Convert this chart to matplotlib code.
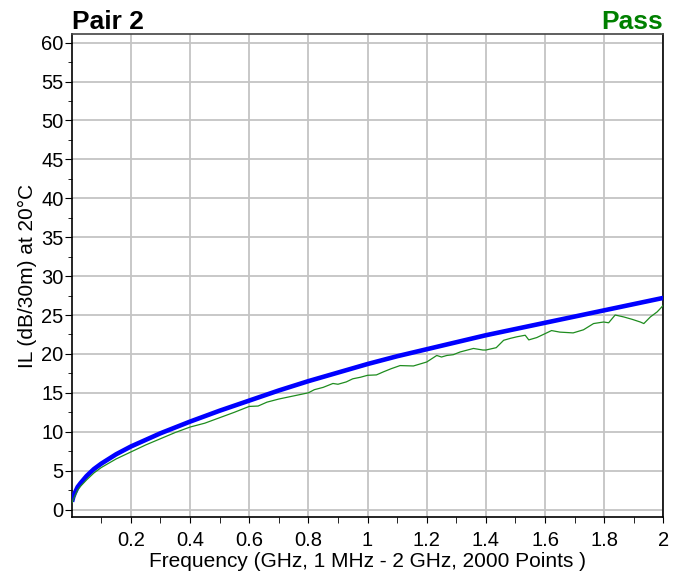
import matplotlib.pyplot as plt
from matplotlib.ticker import MultipleLocator

plt.rcParams['font.family'] = ['Liberation Sans', 'DejaVu Sans']

# limit curve (blue)
limit_freq = [0.001, 0.005, 0.01, 0.02, 0.03, 0.05, 0.075, 0.1, 0.15, 0.2, 0.3, 0.4, 0.5,
              0.6, 0.7, 0.8, 0.9, 1.0, 1.1, 1.2, 1.3, 1.4, 1.5, 1.6, 1.7, 1.8, 1.9, 2.0]
limit_il = [1.0, 1.6, 2.1, 2.9, 3.4, 4.3, 5.2, 5.9, 7.1, 8.1, 9.8, 11.3, 12.7,
            14.0, 15.3, 16.5, 17.6, 18.7, 19.7, 20.6, 21.5, 22.4, 23.2, 24.0, 24.8, 25.6, 26.4, 27.2]

# measured insertion loss (green)
meas_freq = [0.001, 0.01, 0.02, 0.03, 0.05, 0.075, 0.1, 0.15, 0.2, 0.25, 0.3, 0.35, 0.4,
             0.45, 0.5, 0.55, 0.6, 0.63, 0.66, 0.7, 0.75, 0.8, 0.82, 0.85, 0.883, 0.9,
             0.928, 0.95, 0.976, 1.0, 1.03, 1.054, 1.08, 1.11, 1.155, 1.2, 1.234, 1.25,
             1.268, 1.29, 1.313, 1.358, 1.39, 1.4, 1.435, 1.46, 1.483, 1.505, 1.533,
             1.545, 1.572, 1.6, 1.622, 1.65, 1.695, 1.73, 1.764, 1.798, 1.815, 1.837,
             1.866, 1.894, 1.922, 1.934, 1.956, 1.979, 2.0]
meas_il = [0.9, 1.7, 2.5, 3.0, 3.8, 4.7, 5.4, 6.5, 7.4, 8.3, 9.1, 9.9, 10.6,
           11.1, 11.8, 12.5, 13.25, 13.3, 13.8, 14.2, 14.6, 15.0, 15.4, 15.7, 16.2, 16.1,
           16.4, 16.8, 17.0, 17.25, 17.3, 17.7, 18.1, 18.5, 18.45, 18.96, 19.8, 19.6,
           19.8, 19.9, 20.25, 20.7, 20.5, 20.5, 20.8, 21.75, 22.0, 22.2, 22.4,
           21.8, 22.1, 22.6, 23.0, 22.8, 22.7, 23.1, 23.9, 24.1, 24.0, 25.0,
           24.75, 24.45, 24.1, 23.9, 24.75, 25.4, 26.25]

fig = plt.figure(figsize=(6.86, 5.78), dpi=100)
ax = fig.add_axes([0.105, 0.105, 0.862, 0.836])

ax.plot(limit_freq, limit_il, color='#0000ff', linewidth=3.3, solid_capstyle='butt', zorder=3)
ax.plot(meas_freq, meas_il, color='#1e8c1e', linewidth=0.9, zorder=4)

ax.set_xlim(0.001, 2.0)
ax.set_ylim(-1.0, 61.1)
ax.xaxis.set_minor_locator(MultipleLocator(0.1))
ax.yaxis.set_major_locator(MultipleLocator(5))
ax.yaxis.set_minor_locator(MultipleLocator(2.5))
ax.set_xticks([0.2, 0.4, 0.6, 0.8, 1.0, 1.2, 1.4, 1.6, 1.8, 2.0])
ax.set_xticklabels(['0.2', '0.4', '0.6', '0.8', '1', '1.2', '1.4', '1.6', '1.8', '2'])

ax.grid(True, which='major', color='#c4c4c4', linewidth=1.3)
ax.tick_params(axis='both', which='both', direction='out', labelsize=14.5, color='black')
ax.tick_params(axis='x', which='both', length=4, pad=6)
ax.tick_params(axis='y', which='major', length=5, pad=1)
ax.tick_params(axis='y', which='minor', length=3)
for s in ax.spines.values():
    s.set_linewidth(1.2)
ax.spines['top'].set_color('#444444')

ax.set_xlabel('Frequency (GHz, 1 MHz - 2 GHz, 2000 Points )', fontsize=15, labelpad=1)
ax.set_ylabel('IL (dB/30m) at 20°C', fontsize=15, labelpad=3)

ax.set_title('Pair 2', loc='left', fontsize=19, fontweight='bold', pad=3)
ax.set_title('Pass', loc='right', fontsize=19, fontweight='bold', color='#008000', pad=3)

fig.savefig('out.png', dpi=100)
